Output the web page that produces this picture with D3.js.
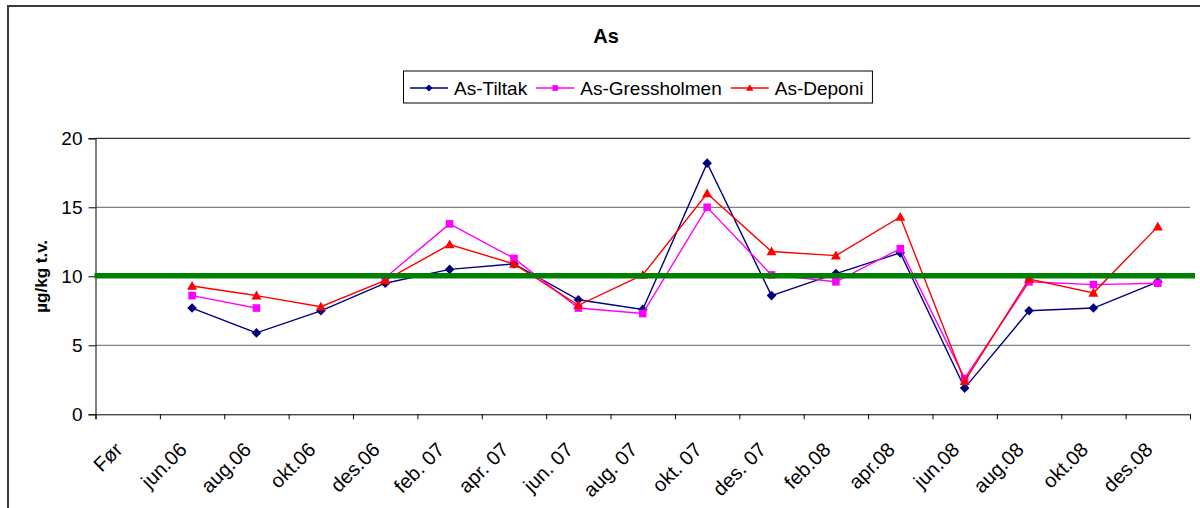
<!DOCTYPE html>
<html>
<head>
<meta charset="utf-8">
<script src="https://cdn.jsdelivr.net/npm/d3@7"></script>
<style>
  body { margin: 0; background: #fff; overflow: hidden; }
  svg { display: block; font-family: "Liberation Sans", Arial, sans-serif; }
</style>
</head>
<body>
<div id="chart"></div>
<script>
// Chart data
var categories = ["Før", "jun.06", "aug.06", "okt.06", "des.06", "feb. 07", "apr. 07", "jun. 07",
  "aug. 07", "okt. 07", "des. 07", "feb.08", "apr.08", "jun.08", "aug.08", "okt.08", "des.08"];
var tiltak      = [null, 7.7, 5.9, 7.5, 9.5, 10.5, 10.9, 8.3, 7.6, 18.2, 8.6, 10.2, 11.7, 1.9, 7.5, 7.7, 9.6];
var gressholmen = [null, 8.6, 7.7, null, 9.9, 13.8, 11.3, 7.7, 7.3, 15.0, 10.1, 9.6, 12.0, 2.6, 9.6, 9.4, 9.5];
var deponi      = [null, 9.3, 8.6, 7.8, 9.7, 12.3, 10.9, 7.9, 10.1, 16.0, 11.8, 11.5, 14.3, 2.4, 9.8, 8.8, 13.6];
var seriesNames = ["As-Tiltak", "As-Gressholmen", "As-Deponi"];
var yTicks = [0, 5, 10, 15, 20];
var limitValue = 10;

// SVG size and plot area
var svgWidth = 1200;
var svgHeight = 508;
var plot = { left: 95.5, right: 1190, top: 138.3, bottom: 414.3 };

var svg = d3.select("#chart")
  .append("svg")
  .attr("width", svgWidth)
  .attr("height", svgHeight);

// outer chart frame: only left and top edges are in view
svg.append("path")
  .attr("d", "M8," + svgHeight + "V6H" + svgWidth)
  .attr("fill", "none")
  .attr("stroke", "#3a3a3a")
  .attr("stroke-width", 2);

// Scales
var xBand = d3.scaleBand().domain(categories).range([plot.left, plot.right]).padding(0);
var xEdge = d3.scaleLinear().domain([0, categories.length]).range([plot.left, plot.right]);
var yScale = d3.scaleLinear().domain([0, 20]).range([plot.bottom, plot.top]);

function cx(i) { return xBand(categories[i]) + xBand.bandwidth() / 2; }

// Gridlines
svg.append("g")
  .selectAll("line")
  .data(yTicks.filter(function(d) { return d > 0; }))
  .enter()
  .append("line")
  .attr("x1", plot.left).attr("x2", plot.right)
  .attr("y1", function(d) { return yScale(d); })
  .attr("y2", function(d) { return yScale(d); })
  .attr("stroke", function(d) { return d === 20 ? "#000" : "#808080"; })
  .attr("stroke-width", function(d) { return d === 20 ? 1 : 1.3; });

// Y axis
var yAxis = d3.axisLeft(yScale).tickValues(yTicks).tickSize(7).tickPadding(6);
var yG = svg.append("g")
  .attr("transform", "translate(" + plot.left + ",0)")
  .call(yAxis);
yG.select(".domain").attr("stroke", "#000");
yG.selectAll("text").attr("font-size", "19px").attr("fill", "#000")
  .attr("font-family", "Liberation Sans, Arial, sans-serif");

// X axis (ticks at category edges)
var xAxis = d3.axisBottom(xEdge).tickValues(d3.range(categories.length + 1))
  .tickSize(5).tickFormat("");
var xG = svg.append("g")
  .attr("transform", "translate(0," + plot.bottom + ")")
  .call(xAxis);
xG.select(".domain").attr("stroke", "#000");

// X labels, rotated
svg.append("g")
  .selectAll("text")
  .data(categories)
  .enter()
  .append("text")
  .attr("transform", function(d) {
    return "translate(" + (xBand(d) + xBand.bandwidth() / 2 - 9) + ",446) rotate(-45)";
  })
  .attr("text-anchor", "end")
  .attr("dy", "0.35em")
  .attr("font-size", "20px")
  .attr("fill", "#000")
  .text(function(d) { return d; });

// Y axis title
svg.append("text")
  .attr("transform", "translate(47," + ((plot.top + plot.bottom) / 2) + ") rotate(-90)")
  .attr("text-anchor", "middle")
  .attr("font-size", "17px")
  .attr("font-weight", "bold")
  .text("µg/kg t.v.");

// Title
svg.append("text")
  .attr("x", 606).attr("y", 43)
  .attr("text-anchor", "middle")
  .attr("font-size", "20px")
  .attr("font-weight", "bold")
  .text("As");

// Series
var markerPaths = {
  diamond: "M0,-4.8L4.8,0L0,4.8L-4.8,0Z",
  square: "M-3.8,-3.8H3.8V3.8H-3.8Z",
  triangle: "M0,-5L5,3.8L-5,3.8Z"
};
var series = [
  { name: seriesNames[0], values: tiltak, color: "#000080", marker: "diamond" },
  { name: seriesNames[1], values: gressholmen, color: "#FF00FF", marker: "square" },
  { name: seriesNames[2], values: deponi, color: "#FF0000", marker: "triangle" }
];

var line = d3.line()
  .defined(function(d) { return d != null; })
  .x(function(d, i) { return cx(i); })
  .y(function(d) { return yScale(d); });

series.forEach(function(s) {
  var g = svg.append("g");
  g.append("path")
    .attr("d", line(s.values))
    .attr("fill", "none")
    .attr("stroke", s.color)
    .attr("stroke-width", 1.4);
  g.selectAll("path.marker")
    .data(s.values.map(function(v, i) { return { v: v, i: i }; }).filter(function(d) { return d.v != null; }))
    .enter()
    .append("path")
    .attr("class", "marker")
    .attr("d", markerPaths[s.marker])
    .attr("transform", function(d) { return "translate(" + cx(d.i) + "," + yScale(d.v) + ")"; })
    .attr("fill", s.color);
});

// Limit line at 10
svg.append("line")
  .attr("x1", plot.left - 1).attr("x2", plot.right + 5)
  .attr("y1", yScale(limitValue) - 0.5).attr("y2", yScale(limitValue) - 0.5)
  .attr("stroke", "#008000")
  .attr("stroke-width", 5.5);

// Legend
var legend = svg.append("g");
var legendBox = legend.append("rect")
  .attr("x", 403.5).attr("y", 71)
  .attr("height", 32)
  .attr("fill", "#fff")
  .attr("stroke", "#000")
  .attr("stroke-width", 1);

var lx = 410;
series.forEach(function(s) {
  legend.append("line")
    .attr("x1", lx).attr("x2", lx + 38)
    .attr("y1", 88).attr("y2", 88)
    .attr("stroke", s.color).attr("stroke-width", 1.4);
  legend.append("path")
    .attr("d", markerPaths[s.marker])
    .attr("transform", "translate(" + (lx + 19) + ",88) scale(0.75)")
    .attr("fill", s.color);
  var t = legend.append("text")
    .attr("x", lx + 44).attr("y", 95)
    .attr("font-size", "19px")
    .text(s.name);
  lx = lx + 44 + t.node().getComputedTextLength() + 9;
});
legendBox.attr("width", lx - 403.5);
</script>
</body>
</html>
